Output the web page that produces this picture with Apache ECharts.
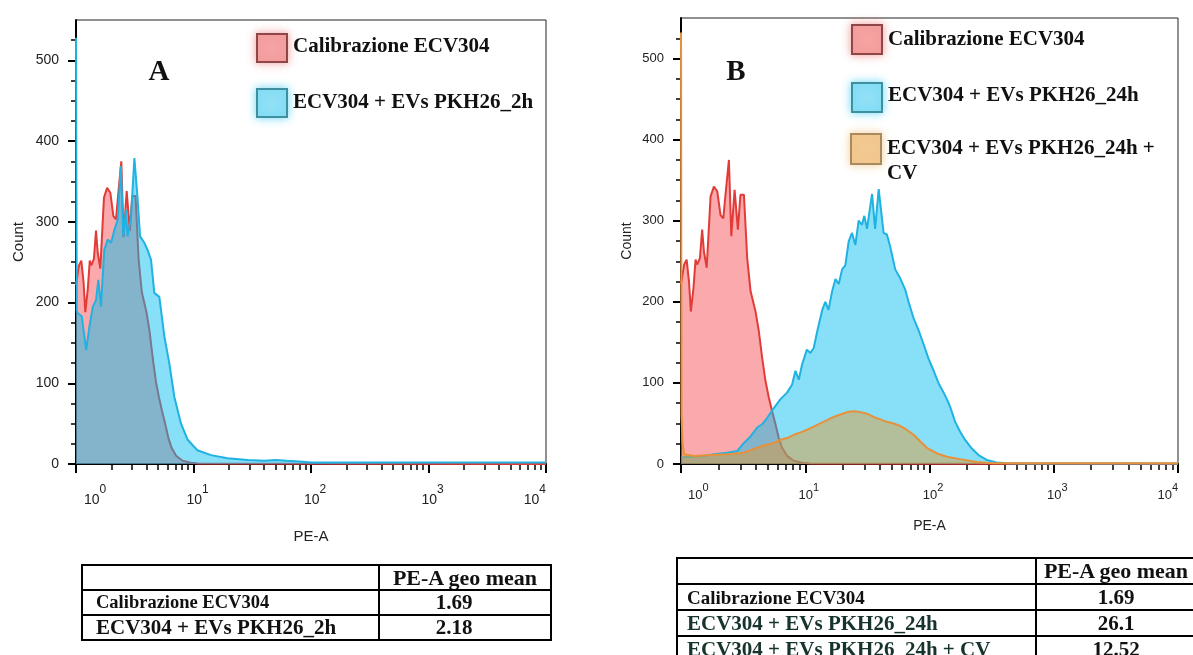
<!DOCTYPE html>
<html><head><meta charset="utf-8">
<script src="https://cdn.jsdelivr.net/npm/echarts@6/dist/echarts.min.js"></script>
<style>
html,body{margin:0;padding:0;background:#fff;}
#wrap{position:relative;width:1193px;height:655px;overflow:hidden;background:#fff;}
#chart{position:absolute;left:0;top:0;width:1193px;height:655px;}
table.t{position:absolute;border-collapse:collapse;table-layout:fixed;font-family:'Liberation Serif','Times New Roman',serif;font-weight:bold;color:#111;}
table.t td{border:2px solid #000;padding:0;white-space:nowrap;overflow:hidden;line-height:1;}
table.t td.v{text-align:center;}
</style></head>
<body><div id="wrap"><div id="chart"></div></div>
<script>
// ---------- data ----------
const seriesNames = ['Calibrazione ECV304', 'ECV304 + EVs PKH26_2h', 'ECV304 + EVs PKH26_24h', 'ECV304 + EVs PKH26_24h + CV'];
// Calibrazione ECV304 (PE-A value, count)
const calX = [1.0, 1.03, 1.06, 1.11, 1.16, 1.2, 1.26, 1.31, 1.35, 1.42, 1.48, 1.53, 1.61, 1.73, 1.84, 1.96, 2.08, 2.19, 2.28, 2.43, 2.54, 2.70, 2.87, 3.01, 3.21, 3.41, 3.63, 3.98, 4.23, 4.5, 4.79, 5.09, 5.41, 5.76, 6.12, 6.51, 7.14, 8.09, 9.5, 11, 10000];
const calY = [222, 221, 246, 252, 225, 188, 217, 252, 246, 254, 289, 262, 242, 330, 342, 336, 307, 303, 332, 375, 281, 338, 289, 332, 332, 254, 213, 188, 164, 131, 102, 82, 65, 49, 32, 20, 10, 4, 1.5, 0.5, 0];
// ECV304 + EVs PKH26_2h
const ev2hX = [1.0, 1.015, 1.03, 1.12, 1.22, 1.30, 1.39, 1.48, 1.55, 1.63, 1.74, 1.86, 1.99, 2.12, 2.26, 2.41, 2.53, 2.66, 2.75, 2.94, 3.14, 3.35, 3.51, 3.82, 4.07, 4.35, 4.64, 5.12, 5.65, 6.22, 6.87, 7.83, 8.92, 10.8, 14.1, 19.5, 28.9, 40, 50, 62, 80, 100, 10000];
const ev2hY = [528, 190, 187, 183, 141, 170, 195, 203, 228, 195, 265, 278, 274, 290, 302, 369, 282, 315, 282, 307, 379, 327, 282, 274, 265, 253, 212, 207, 158, 125, 83, 50, 30, 17, 11, 7, 5, 4, 5, 4, 3, 2, 2];
// ECV304 + EVs PKH26_24h
const ev24X = [1.0, 1.2, 1.53, 1.84, 2.36, 2.83, 3.21, 3.63, 4.10, 4.50, 4.94, 5.59, 6.32, 7.14, 7.84, 8.34, 8.87, 9.44, 10.3, 11.0, 11.7, 12.5, 13.7, 14.5, 15.4, 16.4, 17.5, 18.6, 19.8, 21.0, 22.4, 23.8, 25.3, 26.9, 28.6, 29.9, 31.4, 34.5, 36.5, 39.0, 42.7, 45.4, 48.3, 53.0, 58.1, 63.8, 67.8, 74.4, 81.6, 89.5, 98.2, 108, 118, 130, 138, 147, 161, 176, 193, 219, 248, 289, 347, 418, 600, 10000];
const ev24Y = [8, 9, 10, 12, 14, 16, 26, 34, 45, 49, 57, 69, 80, 88, 98, 115, 104, 123, 141, 137, 143, 164, 190, 200, 190, 212, 228, 222, 240, 245, 275, 285, 270, 300, 295, 306, 290, 333, 290, 339, 285, 283, 268, 240, 229, 215, 200, 180, 165, 148, 130, 115, 100, 88, 80, 70, 52, 40, 30, 19, 11, 5, 2, 1, 0.5, 0.5];
// ECV304 + EVs PKH26_24h + CV
const cvX = [1.0, 1.01, 1.03, 1.06, 1.27, 1.73, 2.36, 3.21, 4.10, 4.94, 5.59, 6.32, 7.14, 8.09, 9.15, 10.3, 11.7, 13.2, 15.0, 16.9, 19.2, 21.7, 24.5, 27.7, 31.4, 35.5, 40.2, 45.4, 51.4, 58.1, 65.8, 74.4, 84.1, 95.2, 115, 138, 176, 240, 327, 500, 10000];
const cvY = [532, 60, 25, 12, 10, 11, 12, 14, 20, 24, 26, 30, 32, 36, 39, 42, 46, 50, 54, 58, 61, 64, 65, 64, 62, 58, 55, 52, 50, 47, 42, 36, 28, 20, 13, 9, 6, 2.5, 1, 1, 1];
// ticks
const xMajor = [1, 10, 100, 1000, 10000];
const xMinor = [2, 3, 4, 5, 6, 7, 8, 9, 20, 30, 40, 50, 60, 70, 80, 90, 200, 300, 400, 500, 600, 700, 800, 900, 2000, 3000, 4000, 5000, 6000, 7000, 8000, 9000];
const yMajor = [0, 100, 200, 300, 400, 500];
const yMinor = [25, 50, 75, 125, 150, 175, 225, 250, 275, 325, 350, 375, 425, 450, 475, 525];
// tables
const tableHeader = 'PE-A geo mean';
const tableANames = ['Calibrazione ECV304', 'ECV304 + EVs PKH26_2h'];
const tableAValues = ['1.69', '2.18'];
const tableBNames = ['Calibrazione ECV304', 'ECV304 + EVs PKH26_24h', 'ECV304 + EVs PKH26_24h + CV'];
const tableBValues = ['1.69', '26.1', '12.52'];

// ---------- styles ----------
const C = {
  red:   {line: '#e23c38', area: 'rgba(245,100,105,0.55)', box: '#f5a3a3', border: '#8e4747', glow: 'rgba(240,120,120,0.7)'},
  cyan:  {line: '#1fb2e2', area: 'rgba(0,190,240,0.47)', box: '#90e0f6', border: '#3f8f9f', glow: 'rgba(60,205,245,0.7)'},
  orange:{line: '#e8903a', area: 'rgba(230,150,40,0.45)', box: '#f2c992', border: '#a88a60', glow: 'rgba(240,190,120,0.7)'}
};
const sansFont = '"Liberation Sans", Arial, sans-serif';
const serifFont = '"Liberation Serif", "Times New Roman", serif';

function zip(xs, ys) { return xs.map((x, i) => [x, ys[i]]); }

function axesFor(grid, o) {
  const xMain = {
    type: 'log', logBase: 10, gridIndex: grid, min: 1, max: 10000, position: 'bottom',
    name: 'PE-A', nameLocation: 'middle', nameGap: o.xNameGap,
    nameTextStyle: {fontFamily: sansFont, fontSize: o.nameSize, color: '#222'},
    axisLine: {show: true, onZero: false, lineStyle: {color: '#000', width: 2}},
    axisTick: {show: true, customValues: xMajor, length: 9, lineStyle: {color: '#000', width: 2}},
    axisLabel: {
      customValues: xMajor, margin: o.xLabelMargin, color: '#222',
      alignMinLabel: 'left', alignMaxLabel: 'right',
      formatter: v => '{p|}{b|10}{s|' + Math.round(Math.log10(v)) + '}',
      rich: {
        p: {width: o.supW},
        b: {fontSize: o.tickSize, fontFamily: sansFont, color: '#222'},
        s: {fontSize: o.tickSize - 2, fontFamily: sansFont, color: '#222', padding: [0, 0, o.supRaise, 0]}
      }
    },
    splitLine: {show: false}, minorTick: {show: false}
  };
  const xMin = {
    type: 'log', logBase: 10, gridIndex: grid, min: 1, max: 10000, position: 'bottom',
    axisLine: {show: false}, axisLabel: {show: false}, splitLine: {show: false},
    axisTick: {show: true, customValues: xMinor, length: 6, lineStyle: {color: '#000', width: 1.5}}
  };
  const yMain = {
    type: 'value', gridIndex: grid, min: 0, max: 550, position: 'left',
    name: 'Count', nameLocation: 'middle', nameGap: o.yNameGap,
    nameTextStyle: {fontFamily: sansFont, fontSize: o.nameSize, color: '#222'},
    axisLine: {show: true, lineStyle: {color: '#000', width: 2}},
    axisTick: {show: true, customValues: yMajor, length: 8, lineStyle: {color: '#000', width: 2}},
    axisLabel: {customValues: yMajor, margin: 17, fontFamily: sansFont, fontSize: o.tickSize, color: '#222'},
    splitLine: {show: false}
  };
  const yMin = {
    type: 'value', gridIndex: grid, min: 0, max: 550, position: 'left',
    axisLine: {show: false}, axisLabel: {show: false}, splitLine: {show: false},
    axisTick: {show: true, customValues: yMinor, length: 5, lineStyle: {color: '#000', width: 1.5}}
  };
  return {x: [xMain, xMin], y: [yMain, yMin]};
}

const axA = axesFor(0, {xNameGap: 65, xLabelMargin: 20, nameSize: 15, tickSize: 14, supW: 8, supRaise: 20, yNameGap: 50});
const axB = axesFor(1, {xNameGap: 55, xLabelMargin: 18, nameSize: 14, tickSize: 13, supW: 7, supRaise: 16, yNameGap: 47});

function histSeries(name, xs, ys, col, xi, yi, z) {
  return {
    type: 'line', name: name, xAxisIndex: xi, yAxisIndex: yi, z: z,
    data: zip(xs, ys), showSymbol: false, symbol: 'none', smooth: false,
    lineStyle: {color: col.line, width: 2},
    areaStyle: {color: col.area, opacity: 1},
    itemStyle: {color: col.line},
    emphasis: {disabled: true}, silent: true, clip: true
  };
}

function legendItem(x, y, w, h, col, label, textY, multi) {
  const items = [{
    type: 'rect', shape: {x: x, y: y, width: w, height: h},
    style: {fill: col.box, stroke: col.border, lineWidth: 2, shadowBlur: 8, shadowColor: col.glow}, z: 10
  }];
  const st = {text: label, fontFamily: serifFont, fontWeight: 'bold', fontSize: 21, fill: '#111',
              align: 'left', verticalAlign: multi ? 'top' : 'middle'};
  if (multi) { st.width = 285; st.overflow = 'break'; st.lineHeight = 25; }
  items.push({type: 'text', x: x + w + 6, y: textY, style: st, z: 10});
  return items;
}

const graphics = [].concat(
  legendItem(257, 34, 30, 28, C.red, seriesNames[0], 47),
  legendItem(257, 89, 30, 28, C.cyan, seriesNames[1], 103),
  [{type: 'text', x: 159, y: 73, style: {text: 'A', fontFamily: serifFont, fontWeight: 'bold', fontSize: 29, fill: '#111', align: 'center', verticalAlign: 'middle'}, z: 10}],
  legendItem(852, 25, 30, 29, C.red, seriesNames[0], 40),
  legendItem(852, 83, 30, 29, C.cyan, seriesNames[2], 96),
  legendItem(851, 134, 30, 30, C.orange, seriesNames[3], 136, true),
  [{type: 'text', x: 736, y: 73, style: {text: 'B', fontFamily: serifFont, fontWeight: 'bold', fontSize: 29, fill: '#111', align: 'center', verticalAlign: 'middle'}, z: 10}]
);

const chart = echarts.init(document.getElementById('chart'), null, {renderer: 'canvas'});
chart.setOption({
  animation: false,
  backgroundColor: '#fff',
  grid: [
    {left: 76, top: 20, width: 470, height: 444, show: true, borderColor: '#222', borderWidth: 1, backgroundColor: 'transparent', containLabel: false},
    {left: 681, top: 18, width: 497, height: 446, show: true, borderColor: '#222', borderWidth: 1, backgroundColor: 'transparent', containLabel: false}
  ],
  xAxis: axA.x.concat(axB.x),
  yAxis: axA.y.concat(axB.y),
  series: [
    histSeries(seriesNames[0], calX, calY, C.red, 0, 0, 2),
    histSeries(seriesNames[1], ev2hX, ev2hY, C.cyan, 0, 0, 3),
    histSeries(seriesNames[0], calX, calY, C.red, 2, 2, 2),
    histSeries(seriesNames[2], ev24X, ev24Y, C.cyan, 2, 2, 3),
    histSeries(seriesNames[3], cvX, cvY, C.orange, 2, 2, 4)
  ],
  graphic: graphics
});

// ---------- tables ----------
function buildTable(left, top, w1, w2, rowH, names, values, padL, nameSmall, valPadR, rowColors) {
  const t = document.createElement('table');
  t.className = 't';
  t.style.left = left + 'px'; t.style.top = top + 'px';
  t.style.width = (w1 + w2) + 'px';
  const cg = document.createElement('colgroup');
  [w1, w2].forEach(w => { const c = document.createElement('col'); c.style.width = w + 'px'; cg.appendChild(c); });
  t.appendChild(cg);
  const rows = [['', tableHeader]].concat(names.map((n, i) => [n, values[i]]));
  rows.forEach((r, i) => {
    const tr = document.createElement('tr');
    tr.style.height = rowH + 'px';
    const a = document.createElement('td');
    a.textContent = r[0];
    a.style.paddingLeft = padL + 'px';
    a.style.fontSize = (r[0] === 'Calibrazione ECV304' ? nameSmall : 21) + 'px';
    if (rowColors[i]) a.style.color = rowColors[i];
    const b = document.createElement('td');
    b.className = 'v'; b.textContent = r[1];
    b.style.fontSize = (i === 0 ? 22 : 21) + 'px';
    if (i > 0 && valPadR) b.style.paddingRight = valPadR + 'px';
    tr.appendChild(a); tr.appendChild(b);
    t.appendChild(tr);
  });
  document.getElementById('wrap').appendChild(t);
}
buildTable(81, 564, 297, 172, 25, tableANames, tableAValues, 13, 18.5, 22, []);
buildTable(676, 557, 359, 160, 26, tableBNames, tableBValues, 9, 19, 0, [null, null, '#17332e', '#17332e']);
</script></body></html>
